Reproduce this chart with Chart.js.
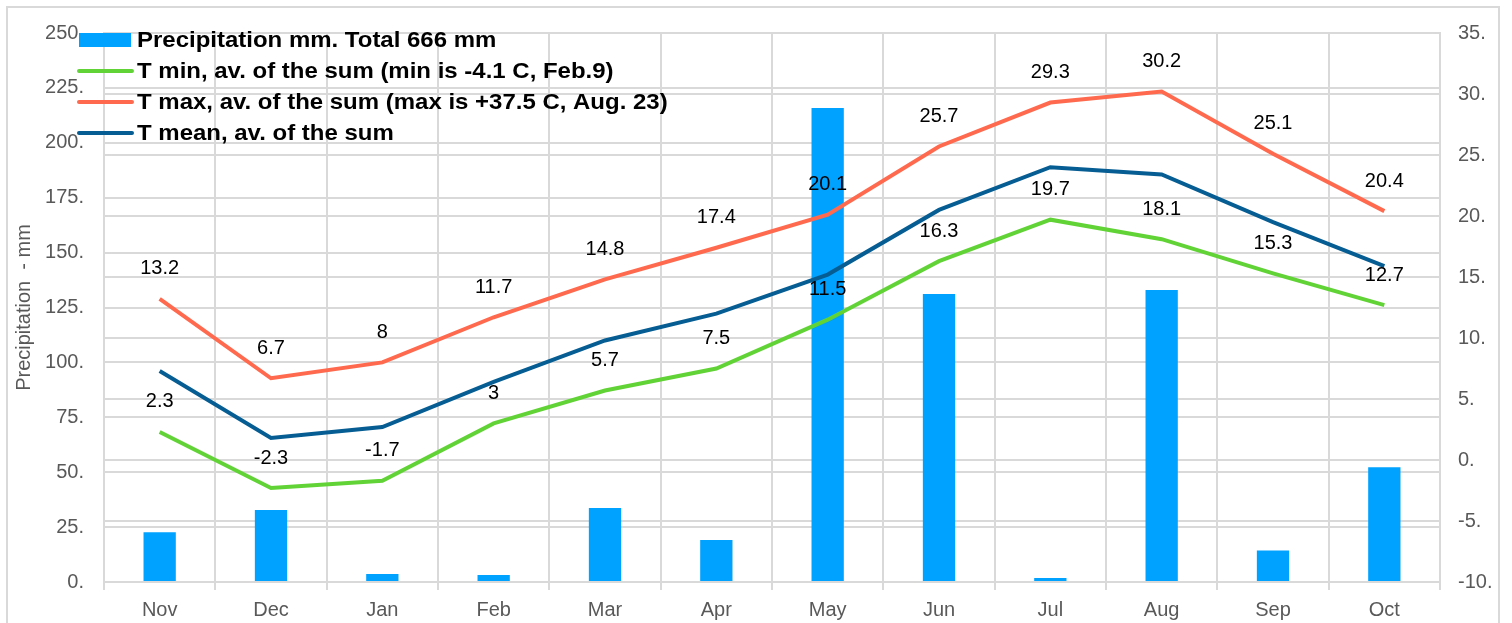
<!DOCTYPE html>
<html>
<head>
<meta charset="utf-8">
<script src="https://cdn.jsdelivr.net/npm/chart.js@4.4.1/dist/chart.umd.min.js"></script>
<style>
  body { margin: 0; background: #fff; }
  canvas { display: block; }
</style>
</head>
<body>
<canvas id="climateChart" width="1512" height="623"></canvas>
<script>
const months = ["Nov", "Dec", "Jan", "Feb", "Mar", "Apr", "May", "Jun", "Jul", "Aug", "Sep", "Oct"];
const precipitation = [22.6, 32.8, 3.6, 3.2, 33.7, 19.1, 215.8, 131.1, 1.8, 133, 14.3, 52.2];
const tMin = [2.3, -2.3, -1.7, 3, 5.7, 7.5, 11.5, 16.3, 19.7, 18.1, 15.3, 12.7];
const tMax = [13.2, 6.7, 8, 11.7, 14.8, 17.4, 20.1, 25.7, 29.3, 30.2, 25.1, 20.4];
const tMean = [7.3, 1.8, 2.7, 6.4, 9.8, 12.0, 15.2, 20.5, 24.0, 23.4, 19.5, 15.9];

const FONT = "'Liberation Sans', Arial, sans-serif";
const GRID = "#d9d9d9";
const TICK = "#595959";

// outer frame + white background
const framePlugin = {
  id: "frame",
  beforeDraw(chart) {
    const c = chart.ctx;
    c.save();
    c.fillStyle = "#fff";
    c.fillRect(0, 0, chart.width, chart.height);
    c.strokeStyle = GRID;
    c.lineWidth = 2;
    c.strokeRect(7, 7, 1492, 650);
    c.restore();
  },
};

// value labels above T min / T max lines
const valueLabels = {
  id: "valueLabels",
  afterDatasetsDraw(chart) {
    const c = chart.ctx;
    c.save();
    c.font = "20px " + FONT;
    c.fillStyle = "#000";
    c.textAlign = "center";
    c.textBaseline = "middle";
    chart.data.datasets.forEach(function (ds, i) {
      if (!ds.showValues) return;
      chart.getDatasetMeta(i).data.forEach(function (pt, j) {
        c.fillText(String(ds.data[j]), pt.x, pt.y - 30);
      });
    });
    c.restore();
  },
};

// legend drawn inside the plot, top-left
const insideLegend = {
  id: "insideLegend",
  afterDraw(chart) {
    const c = chart.ctx;
    c.save();
    c.font = "bold 22px " + FONT;
    c.textBaseline = "middle";
    chart.data.datasets.forEach(function (ds, i) {
      const y = 40 + i * 31;
      if (ds.type === "bar") {
        c.fillStyle = ds.backgroundColor;
        c.fillRect(79, 33, 52, 14);
      } else {
        c.strokeStyle = ds.borderColor;
        c.lineWidth = 4;
        c.lineCap = "round";
        c.beginPath();
        c.moveTo(79, y);
        c.lineTo(132, y);
        c.stroke();
      }
      // original text is a little wider than Arial
      c.save();
      c.translate(137, y + 1);
      c.scale(1.09, 1);
      c.fillStyle = "#000";
      c.fillText(ds.label, 0, 0);
      c.restore();
    });
    c.restore();
  },
};

const ctx = document.getElementById("climateChart").getContext("2d");

new Chart(ctx, {
  data: {
    labels: months,
    datasets: [
      {
        type: "bar",
        label: "Precipitation mm. Total 666 mm",
        data: precipitation,
        backgroundColor: "#00a2ff",
        yAxisID: "y",
        barPercentage: 0.29,
        categoryPercentage: 1,
        order: 4,
      },
      {
        type: "line",
        label: "T min, av. of the sum (min is -4.1 C, Feb.9)",
        data: tMin,
        borderColor: "#62d337",
        borderWidth: 4,
        pointRadius: 0,
        tension: 0,
        yAxisID: "y1",
        showValues: true,
        order: 3,
      },
      {
        type: "line",
        label: "T max, av. of the sum (max is +37.5 C, Aug. 23)",
        data: tMax,
        borderColor: "#ff6a4f",
        borderWidth: 4,
        pointRadius: 0,
        tension: 0,
        yAxisID: "y1",
        showValues: true,
        order: 2,
      },
      {
        type: "line",
        label: "T mean, av. of the sum",
        data: tMean,
        borderColor: "#055d93",
        borderWidth: 4,
        pointRadius: 0,
        tension: 0,
        yAxisID: "y1",
        order: 1,
      },
    ],
  },
  options: {
    responsive: false,
    animation: false,
    layout: { padding: { top: 33, left: 0, right: 0, bottom: 0 } },
    plugins: {
      legend: { display: false },
      tooltip: { enabled: false },
    },
    scales: {
      x: {
        offset: true,
        grid: { offset: true, color: GRID, lineWidth: 2, tickLength: 8 },
        border: { color: GRID, width: 2 },
        ticks: { color: TICK, font: { family: FONT, size: 20 }, padding: 8 },
        afterFit(scale) {
          scale.height = 41;
        },
      },
      y: {
        position: "left",
        min: 0,
        max: 250,
        ticks: {
          stepSize: 25,
          color: TICK,
          font: { family: FONT, size: 20 },
          padding: 20,
          callback: function (v) {
            return v + ".";
          },
        },
        grid: { color: GRID, lineWidth: 2, drawTicks: false },
        border: { color: GRID, width: 2 },
        title: {
          display: true,
          text: "Precipitation  - mm",
          color: TICK,
          font: { family: FONT, size: 20 },
          padding: { top: 12 },
        },
        afterFit(scale) {
          scale.width = 104;
        },
      },
      y1: {
        position: "right",
        min: -10,
        max: 35,
        ticks: {
          stepSize: 5,
          color: TICK,
          font: { family: FONT, size: 20 },
          padding: 18,
          callback: function (v) {
            return v + ".";
          },
        },
        grid: { color: GRID, lineWidth: 2, drawTicks: false },
        border: { color: GRID, width: 2 },
        afterFit(scale) {
          scale.width = 72;
        },
      },
    },
  },
  plugins: [framePlugin, valueLabels, insideLegend],
});
</script>
</body>
</html>
